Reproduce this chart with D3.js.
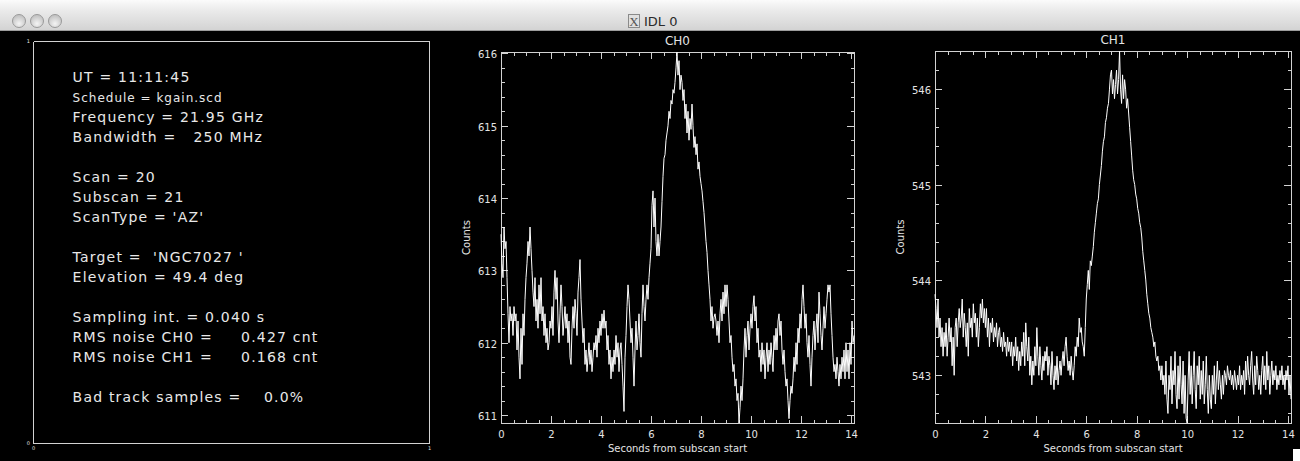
<!DOCTYPE html>
<html lang="en">
<head>
  <meta charset="UTF-8">
  <title>IDL 0</title>
  <script src="https://d3js.org/d3.v7.min.js"></script>
  <style>
    body {
      margin: 0;
      background: #000;
      overflow: hidden;
    }
    svg { display: block; }
    .axis path,
    .axis line {
      stroke: #d2d2d2;
      shape-rendering: crispEdges;
    }
    .axis text {
      fill: #e4e4e4;
      font-family: "DejaVu Sans", sans-serif;
      font-size: 10px;
    }
    .trace {
      fill: none;
      stroke: #fff;
      stroke-width: 1;
    }
    .label {
      fill: #e4e4e4;
      font-family: "DejaVu Sans", sans-serif;
      font-size: 10px;
      text-anchor: middle;
    }
    .title {
      fill: #e4e4e4;
      font-family: "DejaVu Sans", sans-serif;
      font-size: 12px;
      text-anchor: middle;
    }
    .info {
      fill: #e8e8e8;
      font-family: "DejaVu Sans", sans-serif;
      font-size: 14px;
      letter-spacing: 1.2px;
      white-space: pre;
    }
    .info.small {
      font-size: 12px;
      letter-spacing: 1px;
    }
    .winTitle {
      fill: #2a2a2a;
      font-family: "DejaVu Sans", sans-serif;
      font-size: 13px;
    }
  </style>
</head>
<body>
<div id="chart"></div>
<script>
  // subscan samples, one every 0.040 s
  const sampleInterval = 0.04;

  const ch0Counts = [
    613.5, 613.1, 612.9, 613.6, 613.3, 613.4, 612.9, 612.4, 612.0, 612.5, 612.3, 612.4, 612.1, 612.5, 612.3, 612.4, 611.9, 612.3, 611.8, 611.5, 612.2, 611.7, 612.4, 612.1, 612.6,
    612.9, 613.1, 613.4, 613.2, 613.6, 613.3, 613.0, 612.7, 612.5, 612.9, 612.3, 612.6, 612.2, 612.8, 612.4, 612.9, 612.3, 612.5, 612.1, 612.4, 612.0, 612.2, 611.9, 612.0, 612.3,
    612.2, 612.5, 612.1, 612.7, 613.0, 612.6, 612.9, 612.3, 612.0, 612.4, 612.8, 612.5, 612.1, 612.3, 612.5, 612.2, 612.4, 612.0, 612.3, 611.8, 611.7, 612.2, 612.5, 612.2, 612.6,
    612.4, 612.1, 612.7, 612.9, 613.15, 612.6, 612.3, 612.0, 612.2, 611.7, 611.9, 611.6, 611.8, 612.0, 611.7, 611.9, 611.6, 611.8, 612.0, 611.9, 612.1, 611.8, 612.2, 612.0, 612.3,
    612.1, 612.4, 612.2, 612.45, 612.2, 612.3, 611.9, 612.1, 611.7, 611.9, 611.5, 611.8, 611.6, 611.9, 611.7, 612.1, 611.8, 612.0, 611.6, 611.9, 612.0, 611.7, 611.4, 611.05, 611.8,
    612.1, 612.5, 612.8, 612.6, 612.3, 612.0, 612.2, 611.8, 611.4, 611.9, 612.3, 611.9, 612.1, 612.4, 612.0, 611.8, 612.4, 612.8, 612.5, 612.3, 612.6, 612.8, 612.6, 612.9, 613.1,
    613.3, 613.9, 614.1, 613.6, 614.0, 613.4, 613.2, 613.5, 613.2, 613.4, 613.6, 613.95, 614.3, 614.55, 614.6, 614.8, 614.9, 615.0, 615.2, 615.1, 615.35, 615.3, 615.5, 615.45, 615.6,
    615.8, 616.02, 615.7, 615.9, 615.5, 615.7, 615.6, 615.35, 615.5, 615.1, 615.3, 614.9, 615.2, 614.8, 615.1, 614.95, 615.3, 615.0, 614.7, 614.85, 614.6, 614.75, 614.4, 614.5, 614.3,
    614.2, 614.1, 613.95, 613.8, 613.6, 613.4, 613.25, 613.0, 612.8, 612.6, 612.3, 612.5, 612.2, 612.35, 612.4, 612.3, 612.1, 612.3, 612.0, 612.4, 612.6, 612.3, 612.7, 612.4, 612.8,
    612.5, 612.8, 612.6, 612.3, 612.0, 612.1, 611.8, 611.6, 611.7, 611.4, 611.5, 611.2, 611.3, 610.89, 611.1, 611.4, 611.2, 611.5, 611.9, 612.2, 611.8, 612.1, 612.3, 611.9, 612.2,
    612.4, 612.2, 612.5, 612.65, 612.3, 612.5, 612.0, 612.2, 611.8, 611.9, 611.6, 612.0, 611.7, 611.9, 611.5, 611.8, 612.0, 611.6, 611.9, 611.7, 612.0, 611.8, 611.6, 612.1, 611.9,
    612.2, 611.9, 612.3, 612.4, 612.1, 612.3, 611.9, 611.7, 611.9, 611.6, 611.4, 611.5, 611.2, 610.95, 611.2, 611.4, 611.3, 611.5, 611.8, 611.6, 612.0, 611.7, 612.2, 612.0, 612.4,
    612.2, 612.6, 612.8, 612.5, 612.2, 612.4, 612.0, 611.8, 612.1, 611.7, 611.4, 611.8, 612.1, 612.3, 611.9, 612.2, 612.4, 612.0, 612.7, 612.4, 612.1, 611.9, 612.2, 612.5, 612.2,
    612.4, 612.6, 612.8, 612.7, 612.8, 612.4, 612.1, 611.8, 611.6, 611.7, 611.5, 611.8, 611.6, 611.4, 611.7, 611.5, 611.8, 611.6, 611.9, 611.5, 612.0, 611.6, 611.9, 611.5, 612.0,
    611.7, 612.3, 612.0, 612.1
  ];

  const ch1Counts = [
    543.85, 543.7, 543.5, 543.8, 543.4, 543.6, 543.3, 543.5, 543.2, 543.45, 543.3, 543.55, 543.2, 543.4, 543.6, 543.35, 543.5, 543.1, 543.4, 543.0, 543.5, 543.6, 543.3, 543.55, 543.7,
    543.5, 543.6, 543.8, 543.4, 543.65, 543.5, 543.3, 543.55, 543.2, 543.7, 543.5, 543.6, 543.4, 543.75, 543.55, 543.65, 543.4, 543.6, 543.3, 543.5, 543.75, 543.6, 543.8, 543.55, 543.7,
    543.5, 543.7, 543.4, 543.6, 543.3, 543.55, 543.45, 543.6, 543.35, 543.5, 543.4, 543.55, 543.3, 543.45, 543.5, 543.3, 543.4, 543.25, 543.45, 543.3, 543.35, 543.2, 543.4, 543.25, 543.35,
    543.2, 543.35, 543.1, 543.3, 543.2, 543.4, 543.15, 543.3, 543.05, 543.25, 543.1, 543.35, 543.2, 543.45, 543.1, 543.55, 543.3, 543.15, 543.4, 543.0, 543.2, 542.9, 543.15, 543.0, 543.3,
    543.1, 543.5, 543.2, 543.0, 543.3, 543.1, 542.95, 543.2, 543.05, 543.25, 543.15, 543.3, 543.0, 543.2, 543.1, 542.9, 543.25, 543.0, 542.85, 543.1, 542.95, 543.2, 542.9, 543.05, 543.15,
    543.0, 543.15, 543.25, 543.1, 543.3, 543.4, 543.2, 543.05, 543.15, 543.0, 543.2, 543.05, 542.95, 543.1, 543.3, 543.2, 543.4, 543.3, 543.6, 543.45, 543.5, 543.35, 543.3, 543.2, 543.5,
    543.8, 543.95, 544.1, 543.9, 544.2, 544.15, 544.25, 544.35, 544.5, 544.6, 544.7, 544.8, 544.85, 545.0, 545.1, 545.2, 545.35, 545.45, 545.5, 545.65, 545.7, 545.8, 545.85, 546.0, 546.15,
    546.2, 545.95, 546.1, 545.9, 546.05, 546.2, 545.95, 546.1, 546.4, 546.0, 545.85, 546.15, 545.9, 546.1, 546.0, 545.8, 545.9, 545.75, 545.6, 545.45, 545.3, 545.15, 545.05, 545.0, 544.9,
    544.85, 544.75, 544.7, 544.6, 544.55, 544.45, 544.3, 544.2, 544.1, 544.0, 543.85, 543.75, 543.65, 543.6, 543.5, 543.45, 543.4, 543.3, 543.35, 543.2, 543.15, 543.2, 543.05, 543.1, 542.95,
    543.1, 542.9, 543.0, 542.8, 543.15, 542.75, 542.6, 543.0, 542.85, 543.2, 542.7, 543.05, 542.9, 543.25, 542.8, 542.65, 543.1, 542.75, 543.2, 542.9, 542.7, 543.15, 542.6, 543.0, 542.55,
    542.5, 542.95, 543.25, 542.8, 543.1, 542.7, 543.0, 543.25, 542.85, 542.65, 543.1, 542.9, 543.2, 542.75, 543.05, 542.8, 543.15, 542.7, 542.9, 543.2, 542.85, 542.6, 543.0, 542.75, 542.65,
    543.0, 542.8, 543.1, 542.7, 542.95, 543.15, 542.85, 543.05, 542.9, 542.75, 543.0, 542.8, 543.05, 543.0, 542.9, 543.1, 543.0, 542.95, 543.05, 542.9, 543.0, 542.85, 543.05, 542.95, 542.85,
    543.0, 542.9, 543.1, 542.85, 543.0, 542.9, 543.05, 542.8, 543.15, 542.95, 543.2, 543.0, 542.9, 543.1, 543.25, 542.95, 542.8, 543.1, 542.9, 543.2, 543.05, 542.85, 543.0, 542.8, 543.05,
    543.2, 542.9, 543.1, 542.85, 543.25, 542.95, 543.1, 542.8, 543.0, 543.15, 542.9, 543.05, 542.95, 543.1, 542.85, 543.0, 542.9, 543.05, 542.95, 543.1, 542.9, 543.0, 542.85, 543.05, 542.95,
    543.1, 542.8, 543.0, 542.75
  ];

  const xTickLabels = [0, 2, 4, 6, 8, 10, 12, 14];
  const ch0TickLabels = [611, 612, 613, 614, 615, 616];
  const ch1TickLabels = [543, 544, 545, 546];

  const infoLines = [
    "UT = 11:11:45",
    "Schedule = kgain.scd",
    "Frequency = 21.95 GHz",
    "Bandwidth =   250 MHz",
    "",
    "Scan = 20",
    "Subscan = 21",
    "ScanType = 'AZ'",
    "",
    "Target =  'NGC7027 '",
    "Elevation = 49.4 deg",
    "",
    "Sampling int. = 0.040 s",
    "RMS noise CH0 =     0.427 cnt",
    "RMS noise CH1 =     0.168 cnt",
    "",
    "Bad track samples =    0.0%"
  ];

  const windowTitle = "IDL 0";

  const svgWidth = 1300;
  const svgHeight = 461;

  const svg = d3.select("#chart").append("svg")
    .attr("width", svgWidth)
    .attr("height", svgHeight);

  // ---- window title bar ----
  const defs = svg.append("defs");
  const barGrad = defs.append("linearGradient")
    .attr("id", "bar-gradient")
    .attr("x1", 0).attr("y1", 0).attr("x2", 0).attr("y2", 1);
  barGrad.append("stop").attr("offset", "0%").attr("stop-color", "#fbfbfb");
  barGrad.append("stop").attr("offset", "30%").attr("stop-color", "#ececec");
  barGrad.append("stop").attr("offset", "100%").attr("stop-color", "#d2d2d2");

  const btnGrad = defs.append("radialGradient")
    .attr("id", "btn-gradient")
    .attr("cx", "50%").attr("cy", "70%").attr("r", "60%");
  btnGrad.append("stop").attr("offset", "0%").attr("stop-color", "#f4f4f4");
  btnGrad.append("stop").attr("offset", "100%").attr("stop-color", "#c4c4c4");

  svg.append("rect")
    .attr("width", svgWidth).attr("height", 31)
    .attr("fill", "url(#bar-gradient)");
  svg.append("line")
    .attr("x1", 0).attr("x2", svgWidth).attr("y1", 30.5).attr("y2", 30.5)
    .attr("stroke", "#9c9c9c");
  svg.append("rect")
    .attr("y", 31).attr("width", svgWidth).attr("height", svgHeight - 31)
    .attr("fill", "#000");

  svg.selectAll(".btn")
    .data([19, 37, 55])
    .enter()
    .append("circle")
    .attr("class", "btn")
    .attr("cx", d => d)
    .attr("cy", 21)
    .attr("r", 6.5)
    .attr("fill", "url(#btn-gradient)")
    .attr("stroke", "#9a9a9a");

  svg.append("rect")
    .attr("x", 628.5).attr("y", 14.5).attr("width", 11).attr("height", 13)
    .attr("fill", "#e0e0e0").attr("stroke", "#8a8a8a");
  svg.append("text")
    .attr("x", 634).attr("y", 25.5)
    .attr("text-anchor", "middle")
    .attr("font-family", "Liberation Serif, serif")
    .attr("font-size", 13)
    .attr("fill", "#555")
    .text("X");
  svg.append("text")
    .attr("class", "winTitle")
    .attr("x", 644).attr("y", 26)
    .text(windowTitle);

  // resize grip corner
  svg.append("rect")
    .attr("x", 1293).attr("y", 449).attr("width", 7).attr("height", 12)
    .attr("fill", "#fff");

  // ---- info panel (a normalised 0..1 plot box with text) ----
  const infoX = d3.scaleLinear().domain([0, 1]).range([33, 429]);
  const infoY = d3.scaleLinear().domain([0, 1]).range([443, 41]);

  const infoG = svg.append("g");
  infoG.append("g")
    .attr("class", "axis")
    .attr("transform", `translate(0,${infoY(0)})`)
    .call(d3.axisBottom(infoX).tickValues([0, 1]).tickSize(0).tickSizeOuter(0)
      .tickPadding(3).tickFormat(d3.format("d")))
    .selectAll("text").style("font-size", "5px");
  infoG.append("g")
    .attr("class", "axis")
    .attr("transform", `translate(${infoX(0)},0)`)
    .call(d3.axisLeft(infoY).tickValues([0, 1]).tickSize(0).tickSizeOuter(0)
      .tickPadding(3).tickFormat(d3.format("d")))
    .selectAll("text").style("font-size", "5px");
  infoG.append("g")
    .attr("class", "axis")
    .attr("transform", `translate(0,${infoY(1)})`)
    .call(d3.axisTop(infoX).tickValues([]).tickSizeOuter(0));
  infoG.append("g")
    .attr("class", "axis")
    .attr("transform", `translate(${infoX(1)},0)`)
    .call(d3.axisRight(infoY).tickValues([]).tickSizeOuter(0));

  const smallLines = new Set([1]);
  const lineY = d3.scaleLinear().domain([0, 1]).range([82, 102]);

  const infoRows = infoLines
    .map((text, row) => ({ text, row }))
    .filter(d => d.text !== "");

  infoG.selectAll(".info")
    .data(infoRows)
    .enter()
    .append("text")
    .attr("class", d => smallLines.has(d.row) ? "info small" : "info")
    .attr("xml:space", "preserve")
    .attr("x", infoX(0.1))
    .attr("y", d => lineY(d.row))
    .text(d => d.text);

  // ---- channel plots ----
  const times = ch0Counts.map((d, i) => i * sampleInterval);

  function drawChannel(opts) {
    const x = d3.scaleLinear()
      .domain([0, times[times.length - 1]])
      .range([opts.left, opts.right]);
    const y = d3.scaleLinear()
      .domain(d3.extent(opts.counts))
      .range([opts.bottom, opts.top]);

    const g = svg.append("g");

    const yd = y.domain();
    const xd = x.domain();
    const xMinor = d3.range(0, Math.floor(xd[1] * 2) + 1).map(k => k / 2);
    const yMinor = d3.range(Math.ceil(yd[0] * 5 - 1e-6), Math.floor(yd[1] * 5 + 1e-6) + 1).map(k => k / 5);

    // minor ticks on all four sides
    g.append("g").attr("class", "axis")
      .attr("transform", `translate(0,${opts.bottom})`)
      .call(d3.axisBottom(x).tickValues(xMinor).tickSize(-3.5).tickSizeOuter(0).tickFormat(""));
    g.append("g").attr("class", "axis")
      .attr("transform", `translate(0,${opts.top})`)
      .call(d3.axisTop(x).tickValues(xMinor).tickSize(-3.5).tickSizeOuter(0).tickFormat(""));
    g.append("g").attr("class", "axis")
      .attr("transform", `translate(${opts.left},0)`)
      .call(d3.axisLeft(y).tickValues(yMinor).tickSize(-3.5).tickSizeOuter(0).tickFormat(""));
    g.append("g").attr("class", "axis")
      .attr("transform", `translate(${opts.right},0)`)
      .call(d3.axisRight(y).tickValues(yMinor).tickSize(-3.5).tickSizeOuter(0).tickFormat(""));

    // major ticks
    g.append("g").attr("class", "axis")
      .attr("transform", `translate(0,${opts.bottom})`)
      .call(d3.axisBottom(x).tickValues(xTickLabels).tickSize(-7).tickSizeOuter(0)
        .tickPadding(8).tickFormat(d3.format("d")));
    g.append("g").attr("class", "axis")
      .attr("transform", `translate(0,${opts.top})`)
      .call(d3.axisTop(x).tickValues(xTickLabels).tickSize(-7).tickSizeOuter(0).tickFormat(""));
    g.append("g").attr("class", "axis")
      .attr("transform", `translate(${opts.left},0)`)
      .call(d3.axisLeft(y).tickValues(opts.ticks).tickSize(-7).tickSizeOuter(0)
        .tickPadding(4).tickFormat(d3.format("d")))
      .selectAll("text").attr("dy", "0.45em");
    g.append("g").attr("class", "axis")
      .attr("transform", `translate(${opts.right},0)`)
      .call(d3.axisRight(y).tickValues(opts.ticks).tickSize(-7).tickSizeOuter(0).tickFormat(""));

    const line = d3.line()
      .x((d, i) => x(times[i]))
      .y(d => y(d));

    g.append("path")
      .datum(opts.counts)
      .attr("class", "trace")
      .attr("d", line);

    const midX = (opts.left + opts.right) / 2;
    const midY = (opts.top + opts.bottom) / 2;

    g.append("text")
      .attr("class", "title")
      .attr("x", midX)
      .attr("y", opts.top - 7)
      .text(opts.title);

    g.append("text")
      .attr("class", "label")
      .attr("x", midX)
      .attr("y", opts.bottom + 29)
      .text("Seconds from subscan start");

    g.append("text")
      .attr("class", "label")
      .attr("transform", `translate(${opts.left - 31},${midY}) rotate(-90)`)
      .text("Counts");
  }

  drawChannel({ title: "CH0", counts: ch0Counts, ticks: ch0TickLabels,
    left: 501, right: 854, top: 52, bottom: 423 });
  drawChannel({ title: "CH1", counts: ch1Counts, ticks: ch1TickLabels,
    left: 935, right: 1291, top: 51, bottom: 423 });
</script>
</body>
</html>
